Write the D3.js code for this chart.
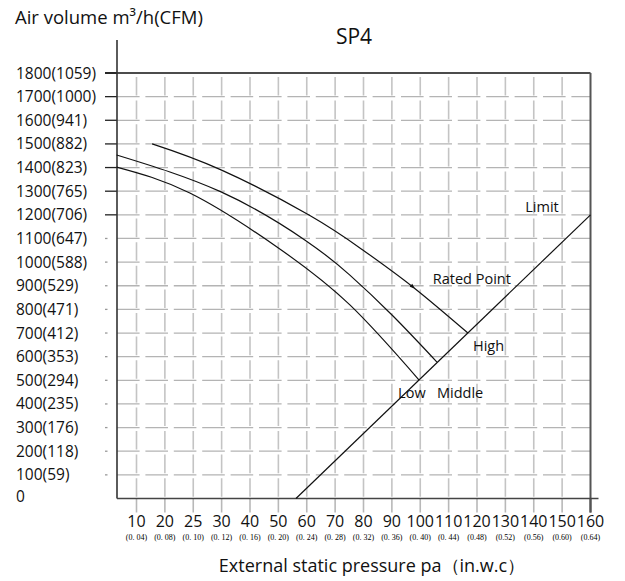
<!DOCTYPE html>
<html>
<head>
<meta charset="utf-8">
<script src="https://cdn.jsdelivr.net/npm/d3@7/dist/d3.min.js"></script>
<style>
  html, body { margin: 0; padding: 0; background: #fff; }
  svg { display: block; }
  text { font-family: "Open Sans", "Noto Sans", sans-serif; fill: #111; }
</style>
</head>
<body>
<svg id="chart" width="625" height="581"></svg>
<script>
// ---------- data ----------
const chartTitle = "SP4";
const yTitle = "Air volume m³/h(CFM)";
const xTitle = "External static pressure pa（in.w.c）";

const yTicks = [0, 100, 200, 300, 400, 500, 600, 700, 800, 900, 1000, 1100, 1200, 1300, 1400, 1500, 1600, 1700, 1800];
const yTickLabels = ["0", "100(59)", "200(118)", "300(176)", "400(235)", "500(294)", "600(353)", "700(412)", "800(471)", "900(529)", "1000(588)", "1100(647)", "1200(706)", "1300(765)", "1400(823)", "1500(882)", "1600(941)", "1700(1000)", "1800(1059)"];

const xTicks = [10, 20, 25, 30, 40, 50, 60, 70, 80, 90, 100, 110, 120, 130, 140, 150, 160];
const xSubLabels = ["(0. 04)", "(0. 08)", "(0. 10)", "(0. 12)", "(0. 16)", "(0. 20)", "(0. 24)", "(0. 28)", "(0. 32)", "(0. 36)", "(0. 40)", "(0. 44)", "(0.48)", "(0.52)", "(0.56)", "(0.60)", "(0.64)"];

// curves: [pressure pa, air volume m3/h]
const highCurve   = [[15.5, 1500], [29.9, 1390], [60.8, 1199], [79.8, 1051], [97.4, 895], [116.8, 700]];
const middleCurve = [[3, 1453], [29.9, 1297], [59.3, 1094], [75.2, 945], [90.4, 772], [105.9, 577]];
const lowCurve    = [[3, 1402], [24.4, 1292], [49.5, 1064], [75.2, 819], [99.6, 501]];
const limitLine   = [[56.2, 0], [160, 1200]];
const arrowPoint  = [97.4, 895];

const curveLabels = [
  { text: "Limit", p: [137, 1213] },
  { text: "Rated Point", p: [104.4, 907] },
  { text: "High", p: [118.6, 625] },
  { text: "Low", p: [92.2, 425] },
  { text: "Middle", p: [105.9, 425] }
];

(function () {
  const svg = d3.select("#chart");
  const x0 = 136.5, step = 28.375;
  const x = d3.scaleLinear()
    .domain(xTicks)
    .range(xTicks.map((d, i) => x0 + i * step));
  const y = d3.scaleLinear().domain([0, 1800]).range([498.5, 73]);

  const pLeft = 117, pRight = x(160), pTop = y(1800), pBottom = y(0);

  // grid: horizontal dashed lines
  svg.append("g").selectAll("line")
    .data(yTicks.filter(d => d > 0 && d < 1800))
    .join("line")
    .attr("x1", pLeft).attr("x2", pRight)
    .attr("y1", d => y(d)).attr("y2", d => y(d))
    .attr("stroke", "#b4b4b4").attr("stroke-width", 1.3)
    .attr("stroke-dasharray", "22.6,5.8");

  // grid: vertical dashed lines
  svg.append("g").selectAll("line")
    .data(xTicks.filter(d => d < 160))
    .join("line")
    .attr("x1", d => x(d)).attr("x2", d => x(d))
    .attr("y1", pTop).attr("y2", pBottom)
    .attr("stroke", "#c4c4c4").attr("stroke-width", 1.6)
    .attr("stroke-dasharray", "18.6,5")
    .attr("stroke-dashoffset", -4);

  // x tick marks below axis
  svg.append("g").selectAll("line")
    .data(xTicks)
    .join("line")
    .attr("x1", d => x(d)).attr("x2", d => x(d))
    .attr("y1", pBottom).attr("y2", pBottom + 14)
    .attr("stroke", d => d === 160 ? "#555" : "#b8b8b8")
    .attr("stroke-width", d => d === 160 ? 2 : 1.6);

  // y ticks
  svg.append("g").selectAll("line")
    .data(yTicks.filter(d => d > 0))
    .join("line")
    .attr("x1", 105).attr("x2", pLeft)
    .attr("y1", d => y(d)).attr("y2", d => y(d))
    .attr("stroke", d => d >= 1200 ? "#222" : "#999")
    .attr("stroke-width", 1.3)
    .attr("stroke-dasharray", d => d >= 1200 ? null : "2.5,20");

  // frame
  svg.append("line").attr("x1", 105).attr("x2", pRight).attr("y1", pTop).attr("y2", pTop)
    .attr("stroke", "#111").attr("stroke-width", 1.5);
  svg.append("line").attr("x1", pRight).attr("x2", pRight).attr("y1", pTop).attr("y2", pBottom + 14)
    .attr("stroke", "#555").attr("stroke-width", 2);
  svg.append("line").attr("x1", pLeft).attr("x2", pLeft).attr("y1", 40).attr("y2", pBottom)
    .attr("stroke", "#333").attr("stroke-width", 1.6);
  svg.append("line").attr("x1", pLeft).attr("x2", pRight + 8).attr("y1", pBottom).attr("y2", pBottom)
    .attr("stroke", "#444").attr("stroke-width", 1.6);

  // y tick labels
  svg.append("g").selectAll("text")
    .data(yTicks)
    .join("text")
    .attr("x", 16)
    .attr("y", d => y(d) + (d === 0 ? 3 : 5.5))
    .attr("font-size", 15.5)
    .text((d, i) => yTickLabels[i]);

  // x tick labels
  svg.append("g").selectAll("text")
    .data(xTicks)
    .join("text")
    .attr("x", d => x(d))
    .attr("y", 527)
    .attr("text-anchor", "middle")
    .attr("font-size", 16)
    .text(d => d);

  svg.append("g").selectAll("text")
    .data(xTicks)
    .join("text")
    .attr("x", d => x(d))
    .attr("y", 539.5)
    .attr("text-anchor", "middle")
    .attr("font-size", 8)
    .style("font-family", "'Liberation Serif', 'DejaVu Serif', serif")
    .style("fill", "#000")
    .text((d, i) => xSubLabels[i]);

  // titles
  svg.append("text").attr("x", 15).attr("y", 24).attr("font-size", 18.5).text(yTitle);
  svg.append("text").attr("x", 354).attr("y", 44).attr("text-anchor", "middle").attr("font-size", 21).text(chartTitle);
  svg.append("text").attr("x", 372).attr("y", 572).attr("text-anchor", "middle").attr("font-size", 18).text(xTitle);

  // curves
  const line = d3.line().x(d => x(d[0])).y(d => y(d[1])).curve(d3.curveNatural);
  const lineStraight = d3.line().x(d => x(d[0])).y(d => y(d[1]));
  [highCurve, middleCurve, lowCurve].forEach(c => {
    svg.append("path").attr("d", line(c))
      .attr("fill", "none").attr("stroke", "#111").attr("stroke-width", 1.2);
  });
  svg.append("path").attr("d", lineStraight(limitLine))
    .attr("fill", "none").attr("stroke", "#111").attr("stroke-width", 1.2);

  // small arrow mark on rated curve
  const px = x(arrowPoint[0]), py = y(arrowPoint[1]);
  const last = highCurve[highCurve.length - 1];
  const ang = Math.atan2(y(last[1]) - py, x(last[0]) - px);
  const L = 5, W = 2;
  const tip = [px + L / 2 * Math.cos(ang), py + L / 2 * Math.sin(ang)];
  const b = [px - L / 2 * Math.cos(ang), py - L / 2 * Math.sin(ang)];
  const p1 = [b[0] - W * Math.sin(ang), b[1] + W * Math.cos(ang)];
  const p2 = [b[0] + W * Math.sin(ang), b[1] - W * Math.cos(ang)];
  svg.append("path").attr("d", `M${tip}L${p1}L${p2}Z`).attr("fill", "#111");

  // curve labels
  svg.append("g").selectAll("text")
    .data(curveLabels)
    .join("text")
    .attr("x", d => x(d.p[0]))
    .attr("y", d => y(d.p[1]))
    .attr("font-size", 14.5)
    .text(d => d.text);
})();
</script>
</body>
</html>
